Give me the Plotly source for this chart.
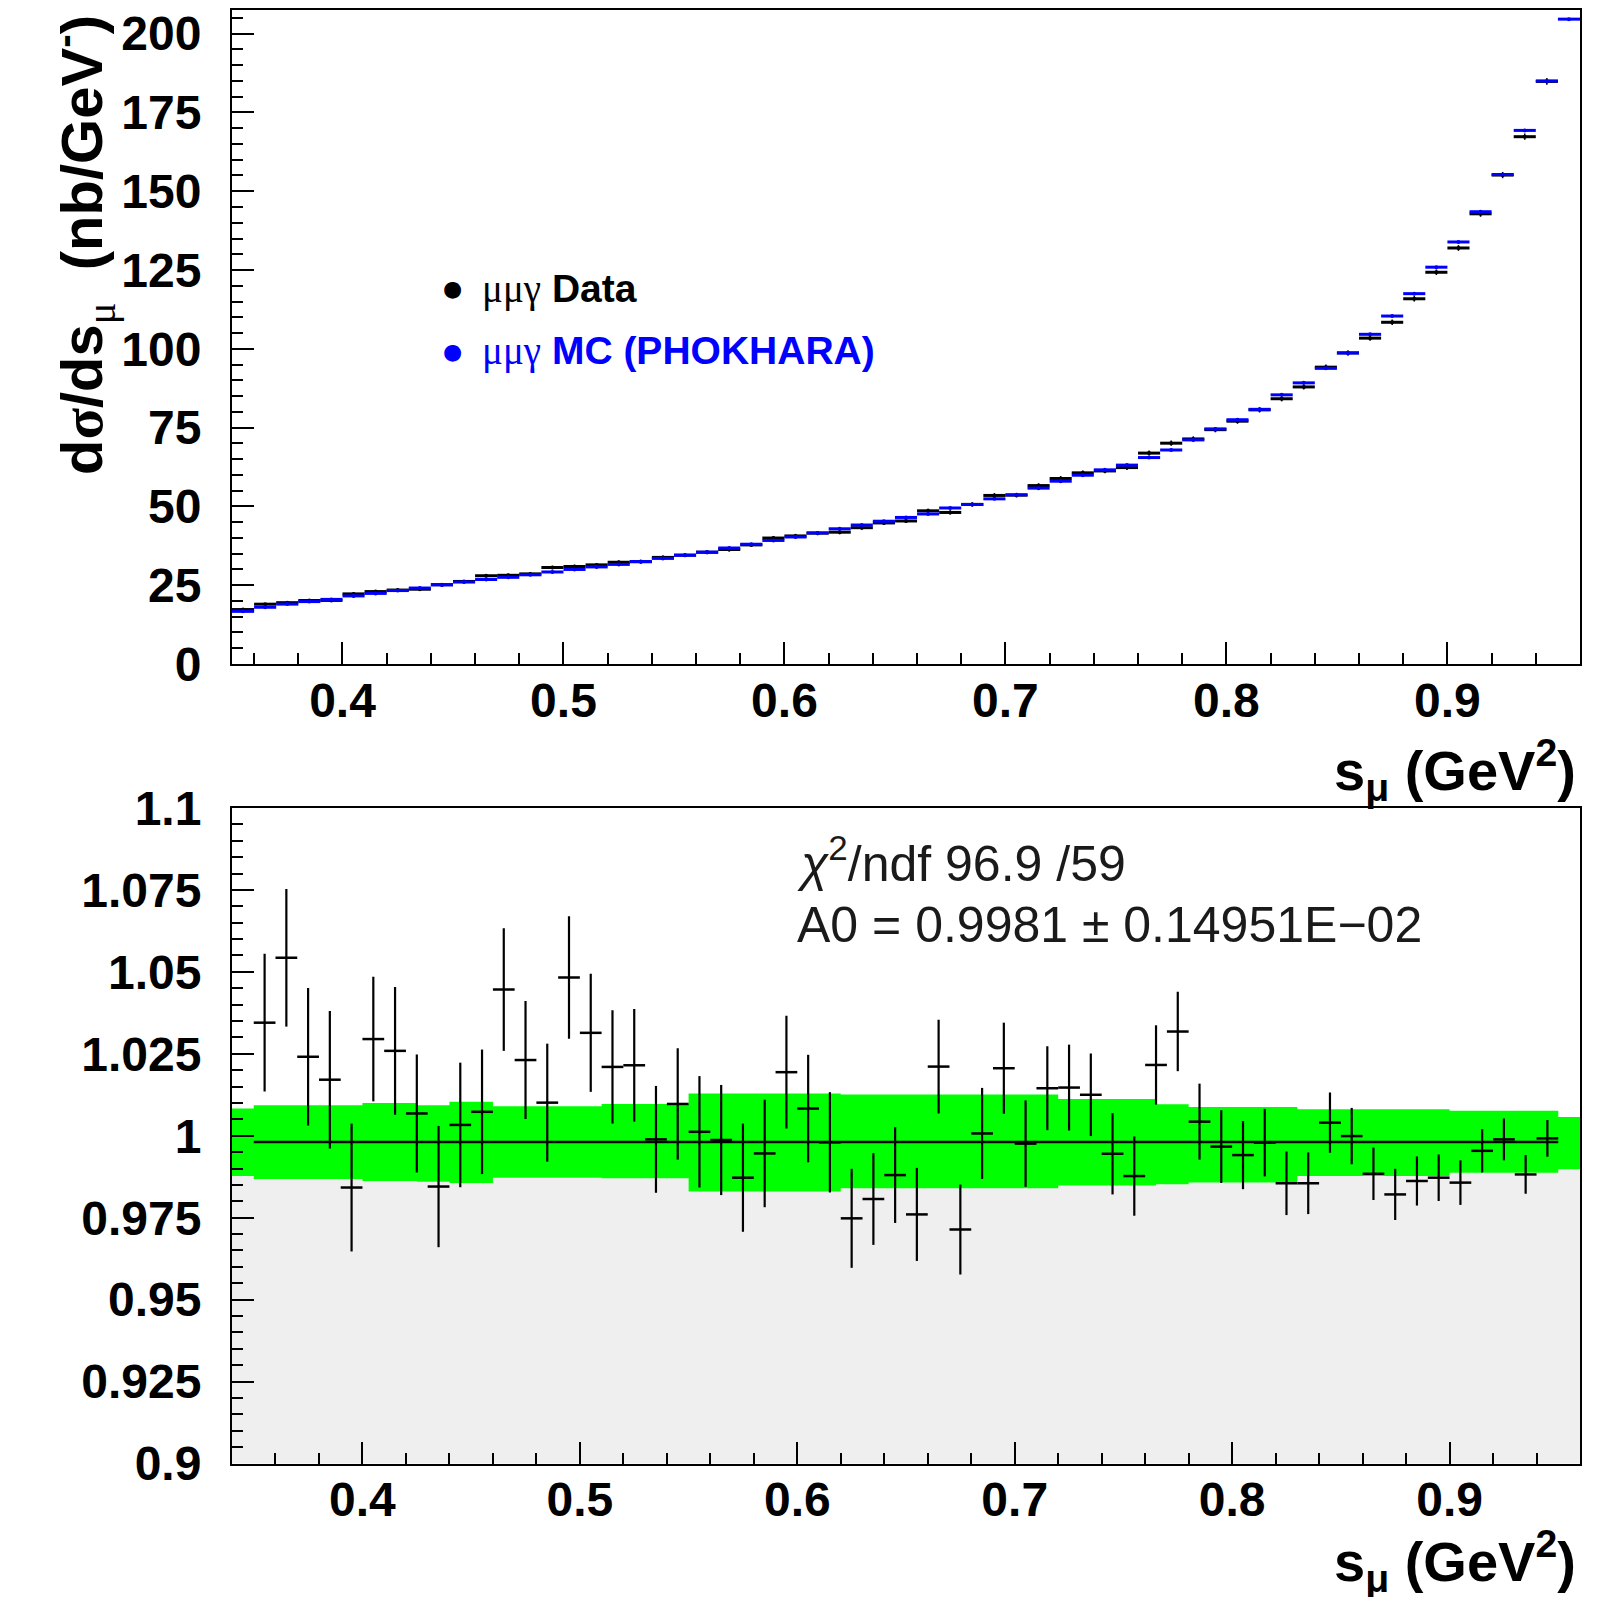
import plotly.graph_objects as go

PAGE_W, PAGE_H = 1624, 1605
BODY_MARGIN = 8                      # default page margin around the figure div
W, H = PAGE_W - 2 * BODY_MARGIN, PAGE_H - 2 * BODY_MARGIN

# ---------------- data ----------------
s_centers = [0.355, 0.365, 0.375, 0.385, 0.395, 0.405, 0.415, 0.425, 0.435, 0.445,
             0.455, 0.465, 0.475, 0.485, 0.495, 0.505, 0.515, 0.525, 0.535, 0.545,
             0.555, 0.565, 0.575, 0.585, 0.595, 0.605, 0.615, 0.625, 0.635, 0.645,
             0.655, 0.665, 0.675, 0.685, 0.695, 0.705, 0.715, 0.725, 0.735, 0.745,
             0.755, 0.765, 0.775, 0.785, 0.795, 0.805, 0.815, 0.825, 0.835, 0.845,
             0.855, 0.865, 0.875, 0.885, 0.895, 0.905, 0.915, 0.925, 0.935, 0.945,
             0.955]

mc_xsec = [16.7, 18.0, 19.0, 19.8, 20.5, 21.6, 22.4, 23.3, 24.1, 25.1,
           26.0, 26.8, 27.5, 28.3, 29.2, 30.0, 30.8, 31.6, 32.5, 33.5,
           34.5, 35.5, 36.8, 38.0, 39.2, 40.3, 41.6, 42.9, 44.1, 45.3,
           46.5, 47.6, 49.5, 50.6, 52.4, 53.7, 55.8, 58.0, 59.9, 61.6,
           63.1, 65.5, 67.9, 71.1, 74.6, 77.5, 80.8, 85.4, 89.2, 93.8,
           98.7, 104.6, 110.4, 117.5, 125.9, 133.9, 143.5, 155.3, 169.3, 185.0,
           204.6]

data_xsec = [17.28, 18.98, 19.46, 20.14, 20.18, 22.24, 22.98, 23.46, 23.73, 25.18,
             26.19, 28.00, 28.14, 28.59, 30.61, 30.94, 31.45, 32.28, 32.46, 33.82,
             34.54, 35.45, 36.33, 37.79, 39.96, 40.63, 41.52, 41.82, 43.25, 44.76,
             45.38, 48.60, 48.08, 50.64, 53.48, 53.57, 56.61, 58.85, 60.65, 61.26,
             62.32, 66.91, 70.06, 71.41, 74.35, 77.04, 80.63, 84.16, 87.91, 94.18,
             98.69, 103.39, 108.42, 115.88, 124.29, 131.99, 142.84, 155.13, 167.30, 184.85]

data_xsec_err = [0.35, 0.38, 0.40, 0.42, 0.40, 0.41, 0.44, 0.42, 0.45, 0.48,
                 0.49, 0.50, 0.50, 0.51, 0.55, 0.54, 0.53, 0.54, 0.53, 0.57,
                 0.59, 0.60, 0.61, 0.62, 0.67, 0.66, 0.64, 0.65, 0.62, 0.66,
                 0.66, 0.68, 0.68, 0.70, 0.73, 0.71, 0.71, 0.76, 0.75, 0.76,
                 0.76, 0.79, 0.82, 0.82, 0.83, 0.81, 0.83, 0.83, 0.84, 0.86,
                 0.85, 0.84, 0.86, 0.88, 0.89, 0.91, 0.95, 0.99, 1.00, 1.04]

ratio = [1.0345, 1.0543, 1.0241, 1.0171, 0.9842, 1.0295, 1.0259, 1.0068, 0.9845, 1.0033,
         1.0073, 1.0446, 1.0231, 1.0101, 1.0483, 1.0314, 1.0210, 1.0215, 0.9989, 1.0097,
         1.0012, 0.9987, 0.9872, 0.9946, 1.0194, 1.0083, 0.9980, 0.9748, 0.9807, 0.9880,
         0.9760, 1.0211, 0.9714, 1.0007, 1.0206, 0.9976, 1.0145, 1.0147, 1.0125, 0.9945,
         0.9877, 1.0216, 1.0318, 1.0043, 0.9967, 0.9941, 0.9979, 0.9855, 0.9855, 1.0040,
         0.9999, 0.9884, 0.9821, 0.9862, 0.9872, 0.9857, 0.9954, 0.9989, 0.9882, 0.9992]

ratio_err = [0.0210, 0.0210, 0.0210, 0.0210, 0.0195, 0.0190, 0.0195, 0.0180, 0.0185, 0.0190,
             0.0190, 0.0187, 0.0180, 0.0180, 0.0187, 0.0180, 0.0173, 0.0172, 0.0163, 0.0170,
             0.0170, 0.0168, 0.0165, 0.0164, 0.0172, 0.0164, 0.0153, 0.0151, 0.0140, 0.0146,
             0.0142, 0.0143, 0.0137, 0.0139, 0.0139, 0.0132, 0.0128, 0.0131, 0.0126, 0.0124,
             0.0121, 0.0121, 0.0121, 0.0116, 0.0111, 0.0104, 0.0103, 0.0097, 0.0094, 0.0092,
             0.0086, 0.0080, 0.0078, 0.0075, 0.0071, 0.0068, 0.0066, 0.0064, 0.0059, 0.0056]

# MC systematic band on the ratio (step edges, upper and lower limits)
band_edges = [0.34, 0.35, 0.40, 0.425, 0.44, 0.46, 0.51, 0.55, 0.62, 0.72, 0.765, 0.78, 0.83, 0.90, 0.95, 0.96]
band_hi = [1.0083, 1.0093, 1.0100, 1.0093, 1.0104, 1.0090, 1.0097, 1.0129, 1.0126, 1.0112,
           1.0096, 1.0088, 1.0081, 1.0076, 1.0057]
band_lo = [0.9877, 0.9868, 0.9862, 0.9860, 0.9856, 0.9872, 0.9870, 0.9830, 0.9840, 0.9848,
           0.9852, 0.9857, 0.9877, 0.9887, 0.9898]

fit_A0 = 0.9981
fit_range = [0.35, 0.95]
bin_half_width = 0.005

top_xticks = [0.4, 0.5, 0.6, 0.7, 0.8, 0.9]
top_xlabels = ["0.4", "0.5", "0.6", "0.7", "0.8", "0.9"]
top_yticks = [0, 25, 50, 75, 100, 125, 150, 175, 200]
top_ylabels = ["0", "25", "50", "75", "100", "125", "150", "175", "200"]
bot_yticks = [0.9, 0.925, 0.95, 0.975, 1.0, 1.025, 1.05, 1.075, 1.1]
bot_ylabels = ["0.9", "0.925", "0.95", "0.975", "1", "1.025", "1.05", "1.075", "1.1"]

# ---------------- layout geometry (page pixels) ----------------
PL, PR = 232, 1580
TOP_T, TOP_B = 10, 664
BOT_T, BOT_B = 808, 1463.5


def px(x):
    return (x - BODY_MARGIN) / W


def py(y):
    return 1 - (y - BODY_MARGIN) / H


FONT = "Liberation Sans"
SERIF = "Liberation Serif"
TICKFONT = dict(family=FONT, size=48, color="black", weight="bold")

fig = go.Figure()
s_data = s_centers[:len(data_xsec)]

# ---- top panel: cross sections ----
fig.add_trace(go.Scatter(
    x=s_data, y=data_xsec, mode="markers",
    marker=dict(size=4, color="black"),
    error_x=dict(type="constant", value=bin_half_width, width=0, thickness=3, color="black"),
    error_y=dict(type="data", array=data_xsec_err, width=0, thickness=1.5, color="black"),
    xaxis="x", yaxis="y", showlegend=False, hoverinfo="skip"))
fig.add_trace(go.Scatter(
    x=s_centers, y=mc_xsec, mode="markers",
    marker=dict(size=4, color="#0000ff"),
    error_x=dict(type="constant", value=bin_half_width, width=0, thickness=3, color="#0000ff"),
    xaxis="x", yaxis="y", showlegend=False, hoverinfo="skip"))

# ---- bottom panel: ratio ----
band_lo_steps = band_lo + [band_lo[-1]]
band_hi_steps = band_hi + [band_hi[-1]]
fig.add_trace(go.Scatter(
    x=band_edges, y=band_lo_steps, mode="lines", line=dict(width=0, shape="hv"),
    fill="tozeroy", fillcolor="#efefef",
    xaxis="x2", yaxis="y2", showlegend=False, hoverinfo="skip"))
fig.add_trace(go.Scatter(
    x=band_edges, y=band_hi_steps, mode="lines", line=dict(width=0, shape="hv"),
    fill="tonexty", fillcolor="#00ff00",
    xaxis="x2", yaxis="y2", showlegend=False, hoverinfo="skip"))
fig.add_trace(go.Scatter(
    x=fit_range, y=[fit_A0, fit_A0], mode="lines", line=dict(color="black", width=2.5),
    xaxis="x2", yaxis="y2", showlegend=False, hoverinfo="skip"))
fig.add_trace(go.Scatter(
    x=s_data, y=ratio, mode="markers",
    marker=dict(size=2, color="black"),
    error_x=dict(type="constant", value=bin_half_width, width=0, thickness=2.5, color="black"),
    error_y=dict(type="data", array=ratio_err, width=0, thickness=2.2, color="black"),
    xaxis="x2", yaxis="y2", showlegend=False, hoverinfo="skip"))

axis_common = dict(showline=True, mirror=True, linecolor="black", linewidth=2,
                   ticks="inside", ticklen=22, tickwidth=2, tickcolor="black",
                   showgrid=False, zeroline=False, tickfont=TICKFONT, automargin=False,
                   ticklabeloverflow="allow")
minor_x = dict(tickmode="linear", tick0=0.0, dtick=0.02, ticks="inside",
               ticklen=11, tickwidth=2, tickcolor="black")

fig.update_layout(
    width=W, height=H, autosize=False,
    margin=dict(l=0, r=0, t=0, b=0, pad=0, autoexpand=False),
    paper_bgcolor="white", plot_bgcolor="white", showlegend=False,
    xaxis=dict(domain=[px(PL), px(PR)], anchor="y", range=[0.35, 0.96],
               tickmode="array", tickvals=top_xticks, ticktext=top_xlabels,
               minor=minor_x, ticklabelstandoff=-7, **axis_common),
    yaxis=dict(domain=[py(TOP_B), py(TOP_T)], anchor="x", range=[0, 207.5],
               tickmode="array", tickvals=top_yticks, ticktext=top_ylabels,
               minor=dict(tickmode="linear", tick0=0, dtick=5, ticks="inside",
                          ticklen=11, tickwidth=2, tickcolor="black"),
               ticklabelstandoff=19, **axis_common),
    xaxis2=dict(domain=[px(PL), px(PR)], anchor="y2", range=[0.34, 0.96],
                tickmode="array", tickvals=top_xticks, ticktext=top_xlabels,
                minor=minor_x, ticklabelstandoff=-7, **axis_common),
    yaxis2=dict(domain=[py(BOT_B), py(BOT_T)], anchor="x2", range=[0.9, 1.1],
                tickmode="array", tickvals=bot_yticks, ticktext=bot_ylabels,
                minor=dict(tickmode="linear", tick0=0.9, dtick=0.005, ticks="inside",
                           ticklen=11, tickwidth=2, tickcolor="black"),
                ticklabelstandoff=19, **axis_common),
)

annotations = []
# legend
for yc, col, label in [(289, "black", "Data"), (351, "#0000ff", "MC (PHOKHARA)")]:
    annotations.append(dict(x=px(452.6), y=py(yc), xref="paper", yref="paper",
                            text="●", showarrow=False, xanchor="center", yanchor="middle",
                            font=dict(family="DejaVu Sans", size=22, color=col)))
    annotations.append(dict(x=px(480), y=py(yc), xref="paper", yref="paper",
                            text=f'<span style="font-family:{SERIF};font-weight:normal">μμγ</span> {label}',
                            showarrow=False, xanchor="left", yanchor="middle",
                            font=dict(family=FONT, size=39, color=col, weight="bold")))

# fit results
annotations.append(dict(x=px(795), y=py(860), xref="paper", yref="paper",
                        text="<i>χ</i><sup>2</sup>/ndf 96.9 /59", showarrow=False,
                        xanchor="left", yanchor="middle",
                        font=dict(family=FONT, size=50, color="#1a1a1a")))
annotations.append(dict(x=px(795), y=py(925), xref="paper", yref="paper",
                        text="A0 = 0.9981 ± 0.14951E−02", showarrow=False,
                        xanchor="left", yanchor="middle",
                        font=dict(family=FONT, size=50, color="#1a1a1a")))

# axis titles
xtitle = "s<sub>μ</sub> (GeV<sup>2</sup>)"
annotations.append(dict(x=px(1578), y=py(770), xref="paper", yref="paper", text=xtitle,
                        showarrow=False, xanchor="right", yanchor="middle",
                        font=dict(family=FONT, size=56, color="black", weight="bold")))
annotations.append(dict(x=px(1578), y=py(1561), xref="paper", yref="paper", text=xtitle,
                        showarrow=False, xanchor="right", yanchor="middle",
                        font=dict(family=FONT, size=56, color="black", weight="bold")))
ytitle = (f'd<span style="font-family:{SERIF}">σ</span>/ds'
          f'<sub><span style="font-family:{SERIF};font-weight:normal">μ</span></sub>'
          f'  (nb/GeV<sup>-</sup>)')
annotations.append(dict(x=px(82), y=py(13), xref="paper", yref="paper", text=ytitle,
                        showarrow=False, xanchor="center", yanchor="top", textangle=-90,
                        font=dict(family=FONT, size=58, color="black", weight="bold")))

fig.update_layout(annotations=annotations)

fig.write_html("out.html")
